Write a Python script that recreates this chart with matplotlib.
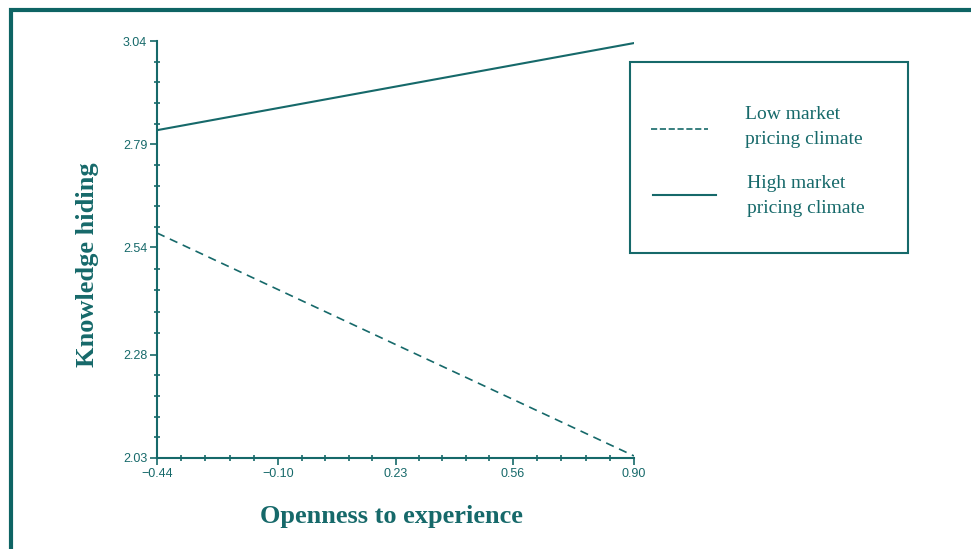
import matplotlib
matplotlib.use("Agg")
import matplotlib.pyplot as plt
from matplotlib.patches import Rectangle
from matplotlib.lines import Line2D
import numpy as np

teal = "#16696a"
border = "#0e6464"

x_vals = [-0.44, 0.90]
low_vals = [2.575, 2.035]
high_vals = [2.824, 3.035]
x_ticks = [-0.44, -0.10, 0.23, 0.56, 0.90]
x_ticklabels = ["\u22120.44", "\u22120.10", "0.23", "0.56", "0.90"]
y_ticks = [2.03, 2.28, 2.54, 2.79, 3.04]
y_ticklabels = ["2.03", "2.28", "2.54", "2.79", "3.04"]
labels = ["Low market\npricing climate", "High market\npricing climate"]

W, H = 971, 549
def fx(px): return px / W
def fy(py): return 1 - py / H

fig = plt.figure(figsize=(9.71, 5.49), dpi=100)
ax = fig.add_axes([fx(157), fy(458), (634-157)/W, (458-41)/H])

l1, = ax.plot(x_vals, low_vals, color=teal, lw=1.2, linestyle=(0, (5, 3.5)))
l2, = ax.plot(x_vals, high_vals, color=teal, lw=1.5)

ax.set_xlim(-0.44, 0.90)
ax.set_ylim(2.03, 3.04)
ax.set_xticks(x_ticks)
ax.set_xticklabels(x_ticklabels)
ax.set_yticks(y_ticks)
ax.set_yticklabels(y_ticklabels)

def minors(majors, n=5):
    out = []
    for a, b in zip(majors[:-1], majors[1:]):
        out.extend(np.linspace(a, b, n + 1)[1:-1])
    return out
ax.set_xticks(minors(x_ticks), minor=True)
ax.set_yticks(minors(y_ticks), minor=True)

for s in ["top", "right"]:
    ax.spines[s].set_visible(False)
for s in ["left", "bottom"]:
    ax.spines[s].set_color(teal)
    ax.spines[s].set_linewidth(1.5)

ax.tick_params(which="major", direction="out", length=5, width=1.2, color=teal,
               labelcolor=teal, labelsize=9, pad=2)
ax.tick_params(which="minor", direction="inout", length=4, width=1.2, color=teal)
for lab in ax.get_xticklabels() + ax.get_yticklabels():
    lab.set_family("Liberation Sans")

ax.set_xlabel("Openness to experience", family="Liberation Serif", fontweight="bold",
              fontsize=19, color=teal)
ax.set_ylabel("Knowledge hiding", family="Liberation Serif", fontweight="bold",
              fontsize=19, color=teal)
ax.xaxis.set_label_coords((391 - 157) / (634 - 157), -(517 - 458) / (458 - 41))
ax.yaxis.set_label_coords(-(157 - 88) / (634 - 157), (458 - 265) / (458 - 41))
ax.xaxis.label.set_va("center")
ax.yaxis.label.set_va("center")

# legend box drawn manually
fig.add_artist(Rectangle((fx(630), fy(253)), (908 - 630) / W, (253 - 62) / H,
                         transform=fig.transFigure, fill=False, edgecolor=teal,
                         linewidth=1.5))
handles = [(l1, 651, 708, 129, 745, 127), (l2, 653, 716, 195, 747, 196)]
for (ln, x0, x1, ly, tx, ty), lab in zip(handles, labels):
    fig.add_artist(Line2D([fx(x0), fx(x1)], [fy(ly), fy(ly)], transform=fig.transFigure,
                          color=ln.get_color(), lw=ln.get_linewidth(),
                          linestyle=ln.get_linestyle()))
    fig.text(fx(tx), fy(ty), lab, family="Liberation Serif", fontsize=14,
             color=teal, va="center", ha="left", linespacing=1.55)

fig.add_artist(Rectangle((fx(10.5), -0.05), 1.2, 1.05 - 9.5 / H,
                         transform=fig.transFigure, fill=False, edgecolor=border,
                         linewidth=3))

fig.savefig("out.png", dpi=100)
